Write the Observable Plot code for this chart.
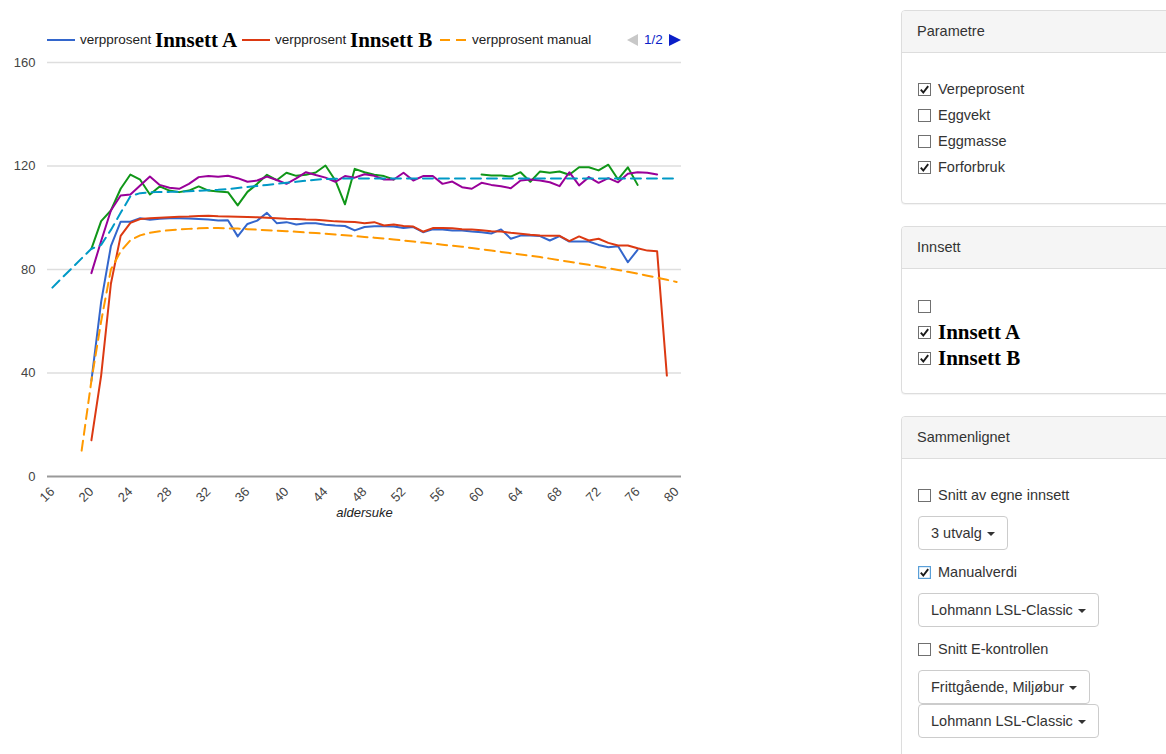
<!DOCTYPE html>
<html><head><meta charset="utf-8">
<script src="https://cdn.jsdelivr.net/npm/d3@7"></script>
<script src="https://cdn.jsdelivr.net/npm/@observablehq/plot@0.6"></script>
<style>
html,body{margin:0;padding:0;background:#fff;width:1166px;height:754px;overflow:hidden;font-family:"Liberation Sans",Arial,sans-serif;}
#chart{position:absolute;left:0;top:0;}
.abs{position:absolute;}
.lt{position:absolute;top:32px;font-size:13.5px;line-height:16px;color:#222;white-space:nowrap;}
.lb{position:absolute;top:28px;font-family:"Liberation Serif","Times New Roman",serif;font-weight:bold;font-size:21px;line-height:24px;color:#000;white-space:nowrap;}
.panel{position:absolute;left:901px;width:320px;border:1px solid #ddd;border-radius:4px;background:#fff;box-shadow:0 1px 1px rgba(0,0,0,.05);}
.ph{height:41px;line-height:41px;background:#f5f5f5;border-bottom:1px solid #ddd;padding-left:15px;font-size:14.5px;color:#333;border-radius:3px 3px 0 0;}
.row{position:absolute;left:918px;height:22px;display:flex;align-items:center;font-size:14.5px;color:#333;white-space:nowrap;}
.row svg{margin-right:7px;flex:none;}
.big{font-family:"Liberation Serif","Times New Roman",serif;font-weight:bold;font-size:21px;color:#000;}
.btn{position:absolute;left:918px;height:32px;line-height:32px;padding:0 12px;border:1px solid #ccc;border-radius:4px;background:#fff;font-size:14.5px;color:#333;white-space:nowrap;}
.caret{display:inline-block;width:0;height:0;margin-left:5px;vertical-align:middle;border-top:4px solid #333;border-left:4px solid transparent;border-right:4px solid transparent;}
</style></head><body>
<div id="chart"></div>
<div id="legend"></div>
<div id="side"></div>
<script>
// ---------- data ----------
const weeks = [16,17,18,19,20,21,22,23,24,25,26,27,28,29,30,31,32,33,34,35,36,37,38,39,40,41,42,43,44,45,46,47,48,49,50,51,52,53,54,55,56,57,58,59,60,61,62,63,64,65,66,67,68,69,70,71,72,73,74,75,76,77,78,79,80];
const xTicks = [16,20,24,28,32,36,40,44,48,52,56,60,64,68,72,76,80];
const yTicks = [0,40,80,120,160];
const xLabel = "aldersuke";

const seriesNames = ["verpprosent Innsett A","verpprosent Innsett B","verpprosent manual","forforbruk Innsett A","forforbruk Innsett B","forforbruk manual"];
const seriesColors = ["#3366cc","#dc3912","#ff9900","#109618","#990099","#0099c6"];

const verpA = [null,null,null,null,
 37,67.5,89,98.5,98.5,99.8,99.2,99.6,99.8,99.8,99.7,99.5,99.3,98.9,99,92.8,97.6,98.9,101.9,97.9,98.3,97.4,97.9,97.9,97.3,97,96.8,95.1,96.4,96.7,96.7,96.6,96,96.4,94.4,95.5,95.5,95.1,95.1,94.7,94.4,93.9,95.5,91.9,93.1,93.1,92.9,91.2,92.9,90.8,90.8,90.8,89.5,88.6,89,82.8,87.6,
 null,null,null,null];
const verpB = [null,null,null,null,
 14,39,74.5,93,98,99.5,99.8,100,100.2,100.4,100.5,100.7,100.8,100.6,100.5,100.4,100.3,100.2,100,99.8,99.6,99.5,99.3,99.2,98.9,98.6,98.5,98.4,97.9,98.3,97,97.4,96.8,96.6,94.6,96,96,95.9,95.6,95.5,95.2,94.8,94.7,94.2,93.8,93.4,93.1,93,93,91,92.8,91.2,91.9,90.3,89.3,89.3,88.2,87.3,87.1,39,
 null];
const verpManual = [null,null,null,
 10,37,60,80,87,91.3,93.2,94.2,94.8,95.2,95.5,95.7,95.9,96,96,95.9,95.8,95.6,95.4,95.2,95,94.8,94.6,94.3,94.1,93.8,93.5,93.2,92.9,92.6,92.3,92,91.6,91.2,90.8,90.4,90,89.6,89.2,88.8,88.3,87.8,87.3,86.8,86.3,85.8,85.3,84.8,84.2,83.6,83,82.4,81.8,81.2,80.5,79.8,79.1,78.4,77.6,76.8,76,75.2];
const forA = [null,null,null,null,
 88,98.7,102.8,111.2,116.7,114.7,109,112.1,110.5,109.9,110.5,112.1,110.5,110.1,109.9,104.8,110,113.1,116.6,114.5,117.4,116.2,116.6,117.5,120.2,114.5,105.2,118.9,117.6,116.6,116.1,114.8,
 null,null,null,null,null,null,null,null,
 116.7,116.3,116.3,115.9,117.6,113.9,117.9,117.4,117.9,116.6,119.5,119.5,118.3,120.5,114.8,119.5,112.7,
 null,null,null,null];
const forB = [null,null,null,null,
 78.6,91,102.8,108.6,109,112.5,115.9,112.7,111.6,111.2,113.1,115.7,116.1,115.8,116.2,115.3,113.9,114.4,115.9,114.6,113.1,115.2,117.6,116.5,115.5,113.9,116.1,115.5,116.8,116.2,114.8,114.8,117.4,114.4,116.1,116.1,113.1,114,111.8,111.2,113.5,112.7,112.2,111.4,114.4,114.8,114.4,113.7,112.2,117.6,112.5,115.7,113.5,115.3,113.7,117,117.6,117.4,116.7,
 null,null];
const forManual = [73,76.8,80.5,84.3,88,89.5,95.3,101.9,108.3,109.5,109.8,110,110,110.1,110.2,110.4,110.6,110.8,111.1,111.5,111.9,112.3,112.7,113.1,113.5,113.9,114.3,114.7,115,115.1,115.2,
 115.2,115.2,115.2,115.2,115.2,115.2,115.2,115.2,115.2,115.2,115.2,115.2,115.2,115.2,115.2,115.2,115.2,115.2,115.2,115.2,115.2,115.2,115.2,115.2,115.2,115.2,115.2,115.2,115.2,115.2,115.2,115.2,115.2,115.2];

const seriesValues = [verpA, verpB, verpManual, forA, forB, forManual];
const seriesDashed = [false,false,true,false,false,true];

// ---------- chart ----------
const lineMarks = seriesValues.map((vals, k) => {
  if (vals.length !== weeks.length) console.error("length mismatch", seriesNames[k], vals.length);
  const rows = weeks.map((w, i) => ({week: w, value: vals[i] == null ? NaN : vals[i]}));
  return Plot.line(rows, {x: "week", y: "value", stroke: seriesColors[k], strokeWidth: 2,
    strokeDasharray: seriesDashed[k] ? "10,6" : null, strokeLinejoin: "round"});
});

const chart = Plot.plot({
  width: 700, height: 540,
  marginLeft: 47, marginRight: 19, marginTop: 62, marginBottom: 64,
  style: {fontFamily: "'Liberation Sans', Arial, sans-serif", fontSize: "13px", background: "transparent", overflow: "visible"},
  x: {domain: [15.5, 80.5]},
  y: {domain: [0, 160]},
  marks: [
    Plot.ruleY(yTicks.filter(d => d > 0), {stroke: "#dedede", strokeWidth: 1.4}),
    Plot.ruleY([0], {stroke: "#999", strokeWidth: 2}),
    ...lineMarks,
    Plot.axisY({ticks: yTicks, tickSize: 0, tickPadding: 12, fill: "#444", label: null}),
    Plot.axisX({ticks: xTicks, tickSize: 0, tickPadding: 13, tickRotate: -45, fill: "#444", label: null}),
    Plot.text([xLabel], {frameAnchor: "bottom", dy: 40, fontStyle: "italic", fill: "#222", fontSize: 13})
  ]
});
document.getElementById("chart").appendChild(chart);

// ---------- legend (page 1/2) ----------
const legend = document.getElementById("legend");
function legLine(x, color, dashed) {
  return `<svg class="abs" style="left:${x}px;top:34px" width="28" height="12"><line x1="0" x2="28" y1="6" y2="6" stroke="${color}" stroke-width="2" ${dashed ? 'stroke-dasharray="10,6" stroke-dashoffset="-1"' : ''}/></svg>`;
}
legend.innerHTML =
  legLine(47, seriesColors[0], false) +
  `<span class="lt" style="left:80px">verpprosent</span><span class="lb" style="left:155px">Innsett A</span>` +
  legLine(242, seriesColors[1], false) +
  `<span class="lt" style="left:275px">verpprosent</span><span class="lb" style="left:350px">Innsett B</span>` +
  legLine(439, seriesColors[2], true) +
  `<span class="lt" style="left:472px">verpprosent manual</span>` +
  `<svg class="abs" style="left:626px;top:33px" width="13" height="14"><polygon points="12,1 12,13 1,7" fill="#c8c8c8"/></svg>` +
  `<span class="lt" style="left:644px;color:#0b1fc8">1/2</span>` +
  `<svg class="abs" style="left:668px;top:33px" width="14" height="14"><polygon points="1,1 1,13 13,7" fill="#0b1fc8"/></svg>`;

// ---------- side panel ----------
function box(checked, focus) {
  return `<svg width="13" height="13"><rect x="0.5" y="0.5" width="12" height="12" fill="#fff" stroke="${focus ? '#5a9fd8' : '#707070'}" stroke-width="${focus ? 1.4 : 1}"/>` +
    (checked ? `<path d="M2.8 6.6 L5.3 9.6 L10.2 3.2" stroke="#1a1a1a" stroke-width="1.9" fill="none"/>` : '') + `</svg>`;
}
function row(y, checked, label, cls, focus) {
  return `<div class="row" style="top:${y - 11}px">${box(checked, focus)}<span class="${cls || ''}">${label}</span></div>`;
}
function btn(y, label) {
  return `<div class="btn" style="top:${y}px">${label}<span class="caret"></span></div>`;
}
document.getElementById("side").innerHTML =
  `<div class="panel" style="top:10px;height:192px"><div class="ph">Parametre</div></div>` +
  row(89, true, "Verpeprosent") + row(115, false, "Eggvekt") + row(141, false, "Eggmasse") + row(167, true, "Forforbruk") +
  `<div class="panel" style="top:226px;height:166px"><div class="ph">Innsett</div></div>` +
  row(306, false, "") + row(332, true, "Innsett A", "big") + row(358, true, "Innsett B", "big") +
  `<div class="panel" style="top:416px;height:400px"><div class="ph">Sammenlignet</div></div>` +
  row(495, false, "Snitt av egne innsett") +
  btn(516, "3 utvalg") +
  row(572, true, "Manualverdi", "", true) +
  btn(593, "Lohmann LSL-Classic") +
  row(649, false, "Snitt E-kontrollen") +
  btn(670, "Frittgående, Miljøbur") +
  btn(704, "Lohmann LSL-Classic");
</script>
</body></html>
